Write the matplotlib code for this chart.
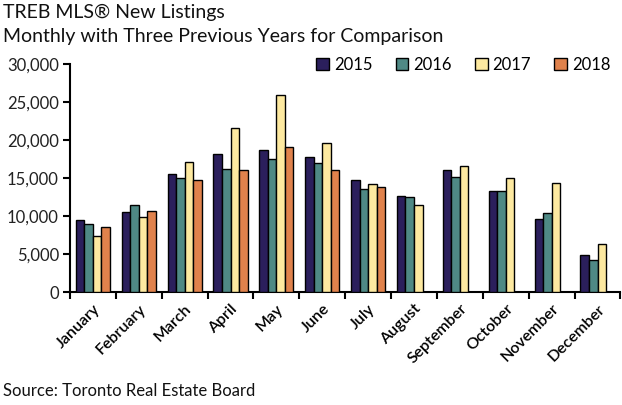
import matplotlib
matplotlib.use("Agg")
import matplotlib.pyplot as plt
import numpy as np

plt.rcParams['font.family'] = ['Lato', 'DejaVu Sans']

months = ["January", "February", "March", "April", "May", "June", "July",
          "August", "September", "October", "November", "December"]
years = ["2015", "2016", "2017", "2018"]
v2015 = [9500, 10500, 15500, 18150, 18700, 17800, 14750, 12600, 16050, 13300, 9550, 4850]
v2016 = [9000, 11400, 14950, 16200, 17500, 16950, 13500, 12450, 15150, 13300, 10400, 4150]
v2017 = [7350, 9900, 17050, 21600, 25950, 19600, 14200, 11500, 16550, 14950, 14400, 6300]
v2018 = [8600, 10600, 14750, 16050, 19100, 16000, 13850, None, None, None, None, None]
colors = ["#2b1f5c", "#4f8985", "#fde9a0", "#e0824c"]

fig = plt.figure(figsize=(6.22, 4.05), dpi=100)
ax = fig.add_axes([0.1125, 0.279, 0.885, 0.563])

x = np.arange(len(months))
w = 0.186
series = [v2015, v2016, v2017, v2018]
for i, (vals, c, yr) in enumerate(zip(series, colors, years)):
    xs = [xi for xi, v in zip(x, vals) if v is not None]
    vs = [v for v in vals if v is not None]
    ax.bar(np.array(xs) + (i - 1.5) * w, vs, width=w, color=c,
           edgecolor="black", linewidth=1.0, label=yr, zorder=3)

ax.set_xlim(-0.5, 11.5)
ax.set_ylim(0, 30000)
ax.set_yticks(range(0, 30001, 5000))
ax.set_yticklabels([f"{t:,}" for t in range(0, 30001, 5000)], fontsize=12, color="#222222")
ax.set_xticks(x)
ax.set_xticklabels(months, rotation=45, ha="right", rotation_mode="anchor",
                   fontsize=11.5, fontweight="semibold")
ax.set_xticks(np.arange(-0.5, 12, 1), minor=True)
ax.tick_params(axis="x", which="major", length=0, pad=7)
ax.tick_params(axis="x", which="minor", length=5, width=1.5, direction="out")
ax.tick_params(axis="y", length=5, width=1.5, direction="out", pad=3)
for s in ["top", "right"]:
    ax.spines[s].set_visible(False)
for s in ["left", "bottom"]:
    ax.spines[s].set_linewidth(1.5)

leg = ax.legend(loc="upper right", bbox_to_anchor=(1.0, 1.075), ncol=4, frameon=False,
                fontsize=12, handlelength=0.75, handleheight=0.75,
                handletextpad=0.3, columnspacing=1.4, borderaxespad=0.2)

fig.text(0.005, 0.99, "TREB MLS\u00ae New Listings", fontsize=14, va="top", ha="left", color="#111111")
fig.text(0.005, 0.93, "Monthly with Three Previous Years for Comparison", fontsize=14,
         va="top", ha="left", color="#111111")
fig.text(0.005, 0.015, "Source: Toronto Real Estate Board", fontsize=12, va="bottom",
         ha="left", color="#111111")

fig.savefig("out.png", dpi=100)
